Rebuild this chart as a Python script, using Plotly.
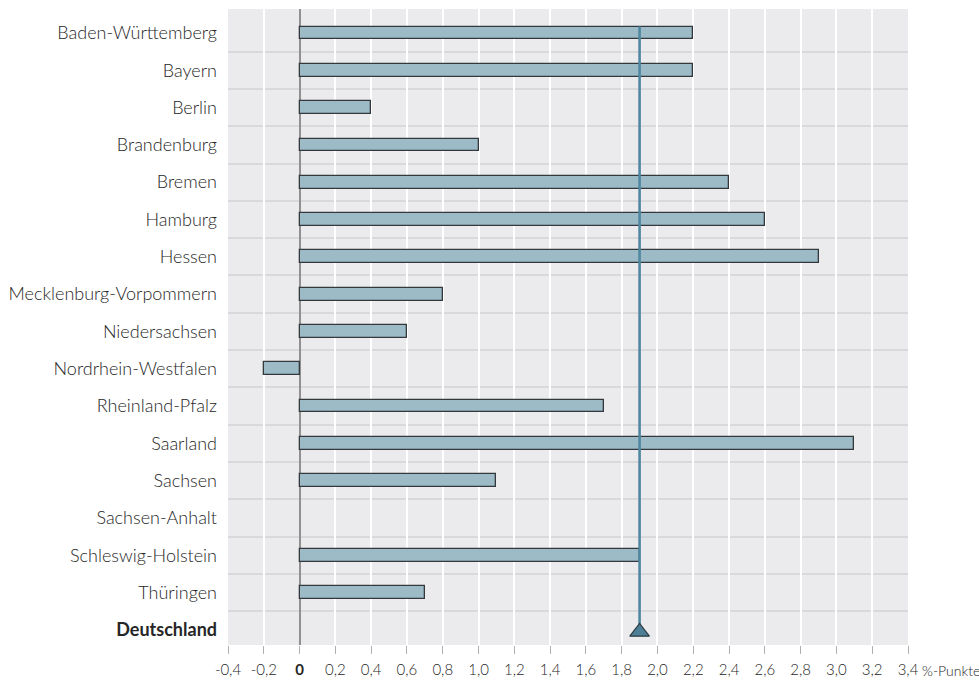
import plotly.graph_objects as go

laender = ["Baden-Württemberg", "Bayern", "Berlin", "Brandenburg", "Bremen", "Hamburg",
           "Hessen", "Mecklenburg-Vorpommern", "Niedersachsen", "Nordrhein-Westfalen",
           "Rheinland-Pfalz", "Saarland", "Sachsen", "Sachsen-Anhalt", "Schleswig-Holstein",
           "Thüringen"]
werte = [2.2, 2.2, 0.4, 1.0, 2.4, 2.6, 2.9, 0.8, 0.6, -0.2, 1.7, 3.1, 1.1, 0.0, 1.9, 0.7]
deutschland_label = "Deutschland"
deutschland_wert = 1.9

x_tickvals = [-0.4, -0.2, 0, 0.2, 0.4, 0.6, 0.8, 1.0, 1.2, 1.4, 1.6, 1.8, 2.0, 2.2, 2.4,
              2.6, 2.8, 3.0, 3.2, 3.4]
x_ticktext = ["-0,4", "-0,2", "<b>0</b>", "0,2", "0,4", "0,6", "0,8", "1,0", "1,2", "1,4",
              "1,6", "1,8", "2,0", "2,2", "2,4", "2,6", "2,8", "3,0", "3,2", "3,4"]

BAR_W = 0.34
n = len(laender)
ypos = list(range(n))
y_de = n
cat_labels = laender + ["<b>" + deutschland_label + "</b>"]

FONT = "Lato"
TXT = "#262626"
fig = go.Figure()

fig.add_trace(go.Bar(
    x=werte, y=ypos, orientation="h", width=BAR_W,
    marker=dict(color="#9dbac7",
                line=dict(color="#33383c", width=[1.3 if v != 0 else 0 for v in werte])),
    showlegend=False, hoverinfo="skip"))

fig.add_trace(go.Scatter(
    x=[deutschland_wert, deutschland_wert], y=[-BAR_W / 2, y_de - 0.15],
    mode="lines", line=dict(color="#4f87a0", width=2.6),
    showlegend=False, hoverinfo="skip"))

fig.add_trace(go.Scatter(
    x=[deutschland_wert], y=[y_de + 0.05], mode="markers",
    marker=dict(symbol="triangle-up", size=17, color="#4c7e95",
                line=dict(color="#2b3a42", width=1.2)),
    showlegend=False, hoverinfo="skip"))

fig.update_layout(
    template="none",
    width=979, height=680,
    margin=dict(l=228, r=71, t=9, b=35),
    paper_bgcolor="white", plot_bgcolor="#ebebed",
    bargap=0,
    font=dict(family=FONT, color=TXT, weight=300),
    xaxis=dict(
        range=[-0.4, 3.4], tickvals=x_tickvals, ticktext=x_ticktext,
        showgrid=True, gridcolor="white", gridwidth=2.2,
        zeroline=True, zerolinecolor="#909090", zerolinewidth=1.5,
        ticks="outside", ticklen=8, tickcolor="#b0b0b0", tickwidth=1.2,
        ticklabelstandoff=3,
        tickfont=dict(size=15, family=FONT, color=TXT, weight=300),
        showline=False, fixedrange=True, automargin=False),
    yaxis=dict(
        range=[n + 0.4, -0.64], tickvals=list(range(n + 1)), ticktext=cat_labels,
        showgrid=False, zeroline=False, ticks="", ticklabelstandoff=10,
        tickfont=dict(size=18, family=FONT, color=TXT, weight=300),
        minor=dict(tickvals=[i + 0.5 for i in range(n)], showgrid=True,
                   gridcolor="#d9d9dc", gridwidth=2, ticks=""),
        showline=False, fixedrange=True, automargin=False),
)

fig.add_annotation(text="%-Punkte", xref="paper", yref="paper", x=1.0, y=0,
                   xanchor="left", yanchor="top", xshift=12, yshift=-15, showarrow=False,
                   font=dict(size=14, family=FONT, color=TXT, weight=300))

fig.write_html("out.html", config={"displayModeBar": False},
               post_script="document.body.style.margin='0px';")
